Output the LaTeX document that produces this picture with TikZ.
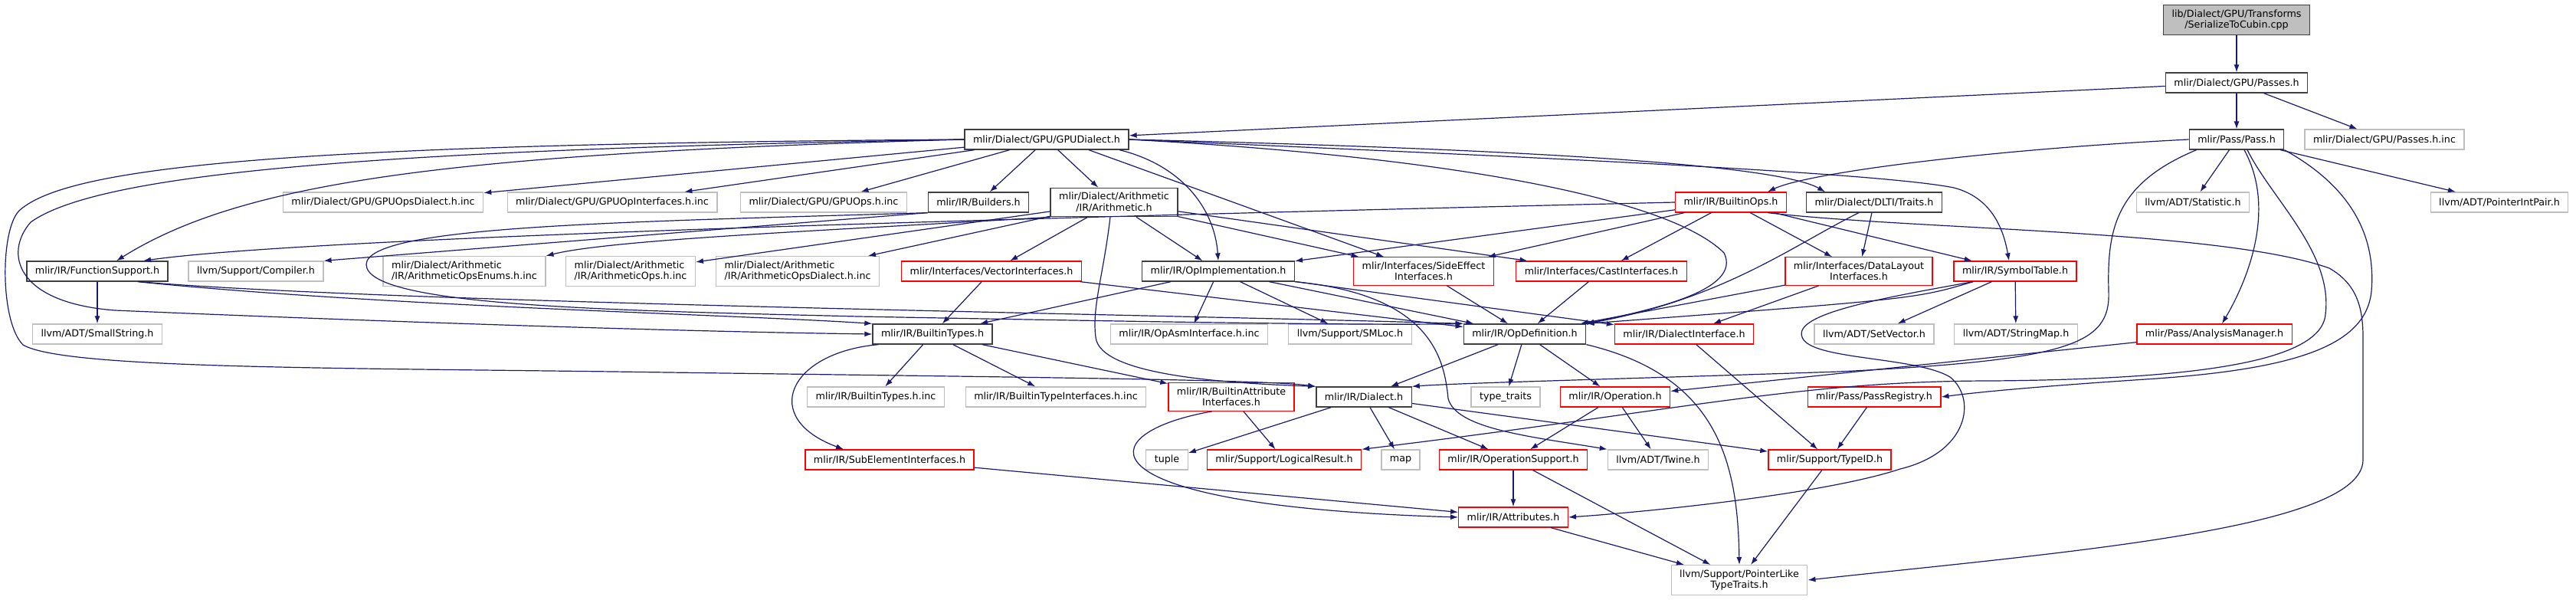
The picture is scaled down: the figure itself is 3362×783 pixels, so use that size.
\documentclass[tikz,border=0pt]{standalone}
\usepackage{fontspec}
\setmainfont{DejaVu Sans}
\usetikzlibrary{arrows.meta}
\definecolor{edgeblue}{HTML}{191970}
\definecolor{boxgray}{HTML}{BFBFBF}
\definecolor{boxdark}{HTML}{404040}
\begin{document}
\begin{tikzpicture}[x=1pt, y=-1pt,
  every node/.style={font=\fontsize{12.7}{14.5}\selectfont, inner xsep=11pt, inner ysep=6pt,
    minimum height=26pt, line width=1.3pt, fill=white, align=center},
  doc/.style={draw=boxdark},
  ext/.style={draw=boxgray},
  trunc/.style={draw=red},
  dep/.style={draw=edgeblue, line width=1.2pt, -{Latex[length=10pt,width=7pt]}}]
\useasboundingbox (0,0) rectangle (3362,783);
\node[doc, fill=boxgray] (root) at (2919,26) {lib/Dialect/GPU/Transforms\\/SerializeToCubin.cpp};
\node[doc] (passes) at (2919,108) {mlir/Dialect/GPU/Passes.h};
\node[doc] (gpud) at (1366,182) {mlir/Dialect/GPU/GPUDialect.h};
\node[doc] (pass) at (2919,182) {mlir/Pass/Pass.h};
\node[ext] (passesinc) at (3112,182) {mlir/Dialect/GPU/Passes.h.inc};
\node[ext] (gpuopsdialect) at (500,264) {mlir/Dialect/GPU/GPUOpsDialect.h.inc};
\node[ext] (gpuopiface) at (799,264) {mlir/Dialect/GPU/GPUOpInterfaces.h.inc};
\node[ext] (gpuops) at (1075,264) {mlir/Dialect/GPU/GPUOps.h.inc};
\node[doc] (builders) at (1277,264) {mlir/IR/Builders.h};
\node[doc] (arith) at (1454,264) {mlir/Dialect/Arithmetic\\/IR/Arithmetic.h};
\node[trunc] (builtinops) at (2259,264) {mlir/IR/BuiltinOps.h};
\node[doc] (dlti) at (2446,264) {mlir/Dialect/DLTI/Traits.h};
\node[ext] (statistic) at (2862,264) {llvm/ADT/Statistic.h};
\node[ext] (ptrintpair) at (3262,264) {llvm/ADT/PointerIntPair.h};
\node[doc] (funcsupport) at (127,354) {mlir/IR/FunctionSupport.h};
\node[ext] (compiler) at (334,354) {llvm/Support/Compiler.h};
\node[ext, align=left] (arenums) at (606,354) {mlir/Dialect/Arithmetic\\/IR/ArithmeticOpsEnums.h.inc};
\node[ext, align=left] (arops) at (823,354) {mlir/Dialect/Arithmetic\\/IR/ArithmeticOps.h.inc};
\node[ext, align=left] (ardialect) at (1041,354) {mlir/Dialect/Arithmetic\\/IR/ArithmeticOpsDialect.h.inc};
\node[trunc] (vectoriface) at (1294,354) {mlir/Interfaces/VectorInterfaces.h};
\node[doc] (opimpl) at (1590,354) {mlir/IR/OpImplementation.h};
\node[trunc] (sideeffect) at (1858,354) {mlir/Interfaces/SideEffect\\Interfaces.h};
\node[trunc] (castiface) at (2090,354) {mlir/Interfaces/CastInterfaces.h};
\node[trunc] (datalayout) at (2426,354) {mlir/Interfaces/DataLayout\\Interfaces.h};
\node[trunc] (symtable) at (2630,354) {mlir/IR/SymbolTable.h};
\node[ext] (smallstring) at (127,436) {llvm/ADT/SmallString.h};
\node[doc] (builtintypes) at (1217,436) {mlir/IR/BuiltinTypes.h};
\node[ext] (opasm) at (1552,436) {mlir/IR/OpAsmInterface.h.inc};
\node[ext] (smloc) at (1762,436) {llvm/Support/SMLoc.h};
\node[doc] (opdef) at (1990,436) {mlir/IR/OpDefinition.h};
\node[trunc] (dialiface) at (2198,436) {mlir/IR/DialectInterface.h};
\node[ext] (setvector) at (2446,436) {llvm/ADT/SetVector.h};
\node[ext] (stringmap) at (2631,436) {llvm/ADT/StringMap.h};
\node[trunc] (analysis) at (2890,436) {mlir/Pass/AnalysisManager.h};
\node[ext] (btypesinc) at (1143,518) {mlir/IR/BuiltinTypes.h.inc};
\node[ext] (btypeiface) at (1378,518) {mlir/IR/BuiltinTypeInterfaces.h.inc};
\node[trunc] (battriface) at (1607,518) {mlir/IR/BuiltinAttribute\\Interfaces.h};
\node[doc] (dialect) at (1780,518) {mlir/IR/Dialect.h};
\node[ext] (typetraits) at (1965,518) {type\_traits};
\node[trunc] (operation) at (2108,518) {mlir/IR/Operation.h};
\node[trunc] (passreg) at (2446,518) {mlir/Pass/PassRegistry.h};
\node[trunc] (subelem) at (1161,600) {mlir/IR/SubElementInterfaces.h};
\node[ext] (tuple) at (1523,600) {tuple};
\node[trunc] (logical) at (1676,600) {mlir/Support/LogicalResult.h};
\node[ext] (map) at (1828,600) {map};
\node[trunc] (opsupport) at (1975,600) {mlir/IR/OperationSupport.h};
\node[ext] (twine) at (2164,600) {llvm/ADT/Twine.h};
\node[trunc] (typeid) at (2388,600) {mlir/Support/TypeID.h};
\node[trunc] (attrs) at (1975,675) {mlir/IR/Attributes.h};
\node[ext] (ptrlike) at (2270,757) {llvm/Support/PointerLike\\TypeTraits.h};
\draw[dep] (root) -- (passes);
\draw[dep] (passes) -- (gpud);
\draw[dep] (passes) -- (pass);
\draw[dep] (passes) -- (passesinc);
\draw[dep] (gpud) -- (gpuopsdialect);
\draw[dep] (gpud) -- (gpuopiface);
\draw[dep] (gpud) -- (gpuops);
\draw[dep] (gpud) -- (builders);
\draw[dep] (gpud) -- (arith);
\draw[dep] (gpud.west) .. controls (600,200) and (320,235) .. ([xshift=25pt]funcsupport.north);
\draw[dep] (gpud.west) .. controls (500,195) and (130,225) .. (40,290) .. controls (5,330) and (20,395) .. (150,405) .. controls (500,420) and (900,433) .. (builtintypes.west);
\draw[dep] (gpud.west) .. controls (400,188) and (90,215) .. (25,275) .. controls (0,300) and (0,420) .. (30,450) .. controls (80,480) and (400,480) .. (800,485) .. controls (1300,492) and (1650,495) .. (dialect.north west);
\draw[dep] ([xshift=95pt]gpud.south) .. controls (1540,215) and (1585,270) .. (opimpl.north);
\draw[dep] ([xshift=55pt]gpud.south) -- (sideeffect);
\draw[dep] (gpud.east) .. controls (1900,205) and (2180,260) .. (2250,330) .. controls (2275,380) and (2150,405) .. (opdef.north east);
\draw[dep] (gpud.east) .. controls (2000,195) and (2320,215) .. ([xshift=25pt]dlti.north west);
\draw[dep] (gpud.east) .. controls (2000,205) and (2450,225) .. (2550,245) .. controls (2600,258) and (2615,300) .. ([xshift=-8pt]symtable.north);
\draw[dep] (arith) -- (ardialect);
\draw[dep] (arith) -- (arops);
\draw[dep] (arith.south west) .. controls (1100,300) and (800,312) .. (arenums.north east);
\draw[dep] (arith) -- (vectoriface);
\draw[dep] (arith) -- (opimpl);
\draw[dep] (arith) -- (sideeffect);
\draw[dep] (arith) -- (castiface);
\draw[dep] ([xshift=-5pt]arith.south) .. controls (1440,360) and (1425,400) .. (1430,440) .. controls (1435,490) and (1600,500) .. (dialect.north west);
\draw[dep] (builders.south west) -- (compiler.north east);
\draw[dep] (builders.south west) .. controls (800,290) and (480,295) .. (478,345) .. controls (478,400) and (800,405) .. (1120,413) .. controls (1500,420) and (1800,425) .. (opdef.north west);
\draw[dep] (funcsupport) -- (smallstring);
\draw[dep] ([xshift=-40pt]funcsupport.south east) .. controls (500,400) and (950,410) .. (builtintypes.north west);
\draw[dep] ([xshift=-38pt]funcsupport.south east) .. controls (500,395) and (1500,410) .. (opdef.north west);
\draw[dep] (builtinops.west) .. controls (1300,285) and (400,310) .. ([xshift=60pt]funcsupport.north);
\draw[dep] (builtinops) -- (opimpl);
\draw[dep] (builtinops) -- (sideeffect);
\draw[dep] (builtinops) -- (castiface);
\draw[dep] (builtinops) -- (datalayout);
\draw[dep] (builtinops) -- (symtable);
\draw[dep] ([xshift=-25pt]builtinops.south east) .. controls (2500,300) and (2900,300) .. (3040,350) .. controls (3075,370) and (3084,400) .. (3084,440) -- (3084,600) .. controls (3084,690) and (2700,720) .. (ptrlike.east);
\draw[dep] (dlti) -- (datalayout);
\draw[dep] ([xshift=-20pt]dlti.south) .. controls (2340,320) and (2250,390) .. (opdef.north east);
\draw[dep] (datalayout) -- (opdef);
\draw[dep] (datalayout) -- (dialiface);
\draw[dep] ([xshift=-55pt]symtable.south) .. controls (2500,390) .. (opdef.north east);
\draw[dep] (symtable) -- (setvector);
\draw[dep] (symtable) -- (stringmap);
\draw[dep] ([xshift=-55pt]symtable.south) .. controls (2450,390) and (2340,410) .. (2352,440) .. controls (2362,470) and (2500,465) .. (2545,492) .. controls (2580,520) and (2570,590) .. (2480,612) .. controls (2380,645) and (2150,668) .. (attrs.east);
\draw[dep] (sideeffect) -- (opdef);
\draw[dep] (castiface) -- (opdef);
\draw[dep] (vectoriface) -- (builtintypes);
\draw[dep] (vectoriface) -- (opdef);
\draw[dep] (opimpl) -- (builtintypes);
\draw[dep] (opimpl) -- (opasm);
\draw[dep] (opimpl) -- (smloc);
\draw[dep] (opimpl) -- (opdef);
\draw[dep] (opimpl) -- (dialiface);
\draw[dep] (opimpl.south east) .. controls (1870,385) and (1885,470) .. (1890,520) .. controls (1900,560) and (2000,570) .. (twine.north west);
\draw[dep] (opdef) -- (dialect);
\draw[dep] (opdef) -- (typetraits);
\draw[dep] (opdef) -- (operation);
\draw[dep] (opdef.south east) .. controls (2240,490) and (2268,600) .. (ptrlike.north);
\draw[dep] (dialiface) -- (typeid);
\draw[dep] (builtintypes) -- (btypesinc);
\draw[dep] (builtintypes) -- (btypeiface);
\draw[dep] (builtintypes) -- (battriface);
\draw[dep] ([xshift=8pt]builtintypes.south west) .. controls (1030,460) and (990,545) .. ([xshift=-60pt]subelem.north);
\draw[dep] (battriface) -- (logical);
\draw[dep] ([xshift=-25pt]battriface.south) .. controls (1420,565) and (1400,660) .. (attrs.west);
\draw[dep] (subelem) -- (attrs);
\draw[dep] (dialect) -- (tuple);
\draw[dep] (dialect) -- (map);
\draw[dep] (dialect) -- (opsupport);
\draw[dep] (dialect) -- (typeid);
\draw[dep] (operation) -- (opsupport);
\draw[dep] (operation) -- (twine);
\draw[dep] (opsupport) -- (attrs);
\draw[dep] (opsupport) -- (ptrlike);
\draw[dep] (attrs) -- (ptrlike);
\draw[dep] (typeid) -- (ptrlike);
\draw[dep] (analysis) -- (operation);
\draw[dep] (passreg) -- (typeid);
\draw[dep] (pass.west) .. controls (2600,195) and (2360,225) .. ([xshift=48pt]builtinops.north);
\draw[dep] (pass) -- (statistic);
\draw[dep] (pass) -- (ptrintpair);
\draw[dep] ([xshift=10pt]pass.south) .. controls (2975,280) and (2925,380) .. ([xshift=10pt]analysis.north);
\draw[dep] ([xshift=10pt]pass.south west) .. controls (2760,240) and (2750,300) .. (2752,380) .. controls (2755,450) and (2700,470) .. (2400,485) .. controls (2100,495) and (1900,500) .. (dialect.north east);
\draw[dep] ([xshift=14pt]pass.south) .. controls (2965,260) and (3045,330) .. (3035,410) .. controls (3030,475) and (2850,495) .. (2600,497) .. controls (2350,497) and (2200,535) .. (logical.north east);
\draw[dep] (pass.south east) .. controls (3080,250) and (3100,320) .. (3095,380) .. controls (3088,450) and (3000,482) .. (2800,495) .. controls (2650,505) and (2580,512) .. (passreg.east);
\end{tikzpicture}
\end{document}
